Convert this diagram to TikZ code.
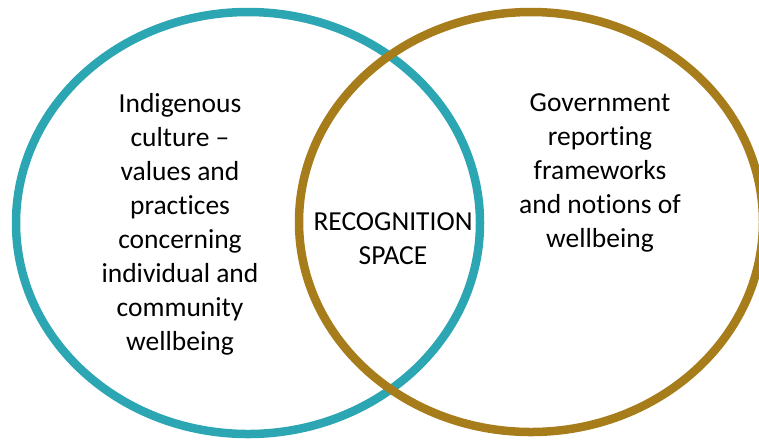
\documentclass[tikz,border=0pt]{standalone}
\usepackage{fontspec}
\setmainfont[Ligatures=NoCommon]{Carlito}
\definecolor{tealring}{HTML}{2CA6B2}
\definecolor{goldring}{HTML}{A77C1B}
\begin{document}
\begin{tikzpicture}[x=1pt,y=-1pt,
  ring/.style={line width=8.5pt},
  lbl/.style={align=center,inner sep=0pt,font=\fontsize{27.5}{34}\selectfont,text=black}]
\useasboundingbox (0,0) rectangle (759,440);
\clip (0,0) rectangle (759,440);
\draw[ring,tealring] (248,223) ellipse [x radius=232pt, y radius=211pt];
\draw[ring,goldring] (531,222) ellipse [x radius=232pt, y radius=210pt];
\node[lbl] (left) at (180,224) {Indigenous\\culture --\\values and\\practices\\concerning\\individual and\\community\\wellbeing};
\node[lbl] (right) at (600,173) {Government\\reporting\\frameworks\\and notions of\\wellbeing};
\node[lbl] (mid) at (393,239) {RECOGNITION\\SPACE};
\end{tikzpicture}
\end{document}
